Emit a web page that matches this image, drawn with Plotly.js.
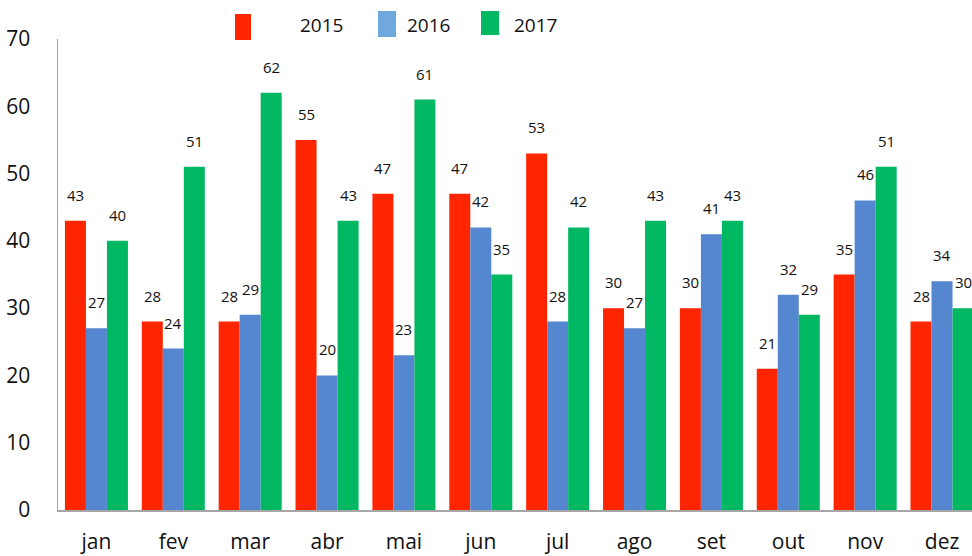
<!DOCTYPE html>
<html><head><meta charset="utf-8">
<script src="https://cdn.plot.ly/plotly-3.0.1.min.js"></script>
<style>html,body{margin:0;padding:0;background:#fff}#c{width:972px;height:556px}</style>
</head><body><div id="c"></div>
<script>
const months = ['jan','fev','mar','abr','mai','jun','jul','ago','set','out','nov','dez'];
const seriesNames = ['2015','2016','2017'];
const v2015 = [43,28,28,55,47,47,53,30,30,21,35,28];
const v2016 = [27,24,29,20,23,42,28,27,41,32,46,34];
const v2017 = [40,51,62,43,61,35,42,43,43,29,51,30];
const yTicks = [0,10,20,30,40,50,60,70];

const barColors = ['#FF2500','#5586D0','#00B862'];
const legendColors = ['#FF2500','#6FA8DC','#00B862'];
const FONT = '"Open Sans", Lato, sans-serif';
const all = [v2015, v2016, v2017];

const traces = all.map((vals,i)=>({
  type:'bar', name:seriesNames[i], x:months.map((m,k)=>k), y:vals,
  marker:{color:barColors[i]}, showlegend:false, hoverinfo:'skip'
}));

const annotations = [];
const shifts = [-21, 0, 21];
all.forEach((vals,i)=>{
  vals.forEach((v,k)=>{
    annotations.push({x:k, y:v, xref:'x', yref:'y', text:String(v), showarrow:false,
      xshift:shifts[i], yshift:14, yanchor:'bottom', font:{family:FONT,size:15,color:'#111'}});
  });
});
// legend drawn as shapes + text
const legItems = [
  {x0:235,x1:251,y0:14,y1:40,tx:298},
  {x0:378,x1:396,y0:11,y1:37,tx:405},
  {x0:481,x1:499,y0:11,y1:35,tx:512}
];
const shapes = legItems.map((it,i)=>({type:'rect', xref:'paper', yref:'paper',
  x0:(it.x0-58)/914, x1:(it.x1-58)/914, y0:(510-it.y1)/471, y1:(510-it.y0)/471,
  fillcolor:legendColors[i], line:{width:0}}));
legItems.forEach((it,i)=>{
  annotations.push({xref:'paper', yref:'paper', x:(it.tx-58)/914, y:(510-25)/471,
    xanchor:'left', yanchor:'middle', text:seriesNames[i], showarrow:false,
    font:{family:FONT,size:19,color:'#111'}});
});

const layout = {
  width:972, height:556,
  margin:{l:58, r:0, t:39, b:46},
  paper_bgcolor:'#fff', plot_bgcolor:'#fff',
  barmode:'group', bargap:0.18, bargroupgap:0,
  font:{family:FONT, color:'#111'},
  xaxis:{range:[-0.5,11.39], tickmode:'array', tickvals:months.map((m,k)=>k), ticktext:months,
    showgrid:false, zeroline:false, showline:true, linecolor:'#A6A6A6', linewidth:1.5,
    ticks:'', ticklabelstandoff:12, tickfont:{family:FONT,size:21,color:'#111'}},
  yaxis:{range:[0,70], tickmode:'array', tickvals:yTicks, ticktext:yTicks.map(String),
    showgrid:false, zeroline:false, showline:true, linecolor:'#A6A6A6', linewidth:1.5,
    ticks:'', ticklabelstandoff:22, tickfont:{family:FONT,size:21,color:'#111'}},
  annotations:annotations, shapes:shapes, showlegend:false
};
Plotly.newPlot('c', traces, layout, {displayModeBar:false, staticPlot:true});
</script></body></html>
